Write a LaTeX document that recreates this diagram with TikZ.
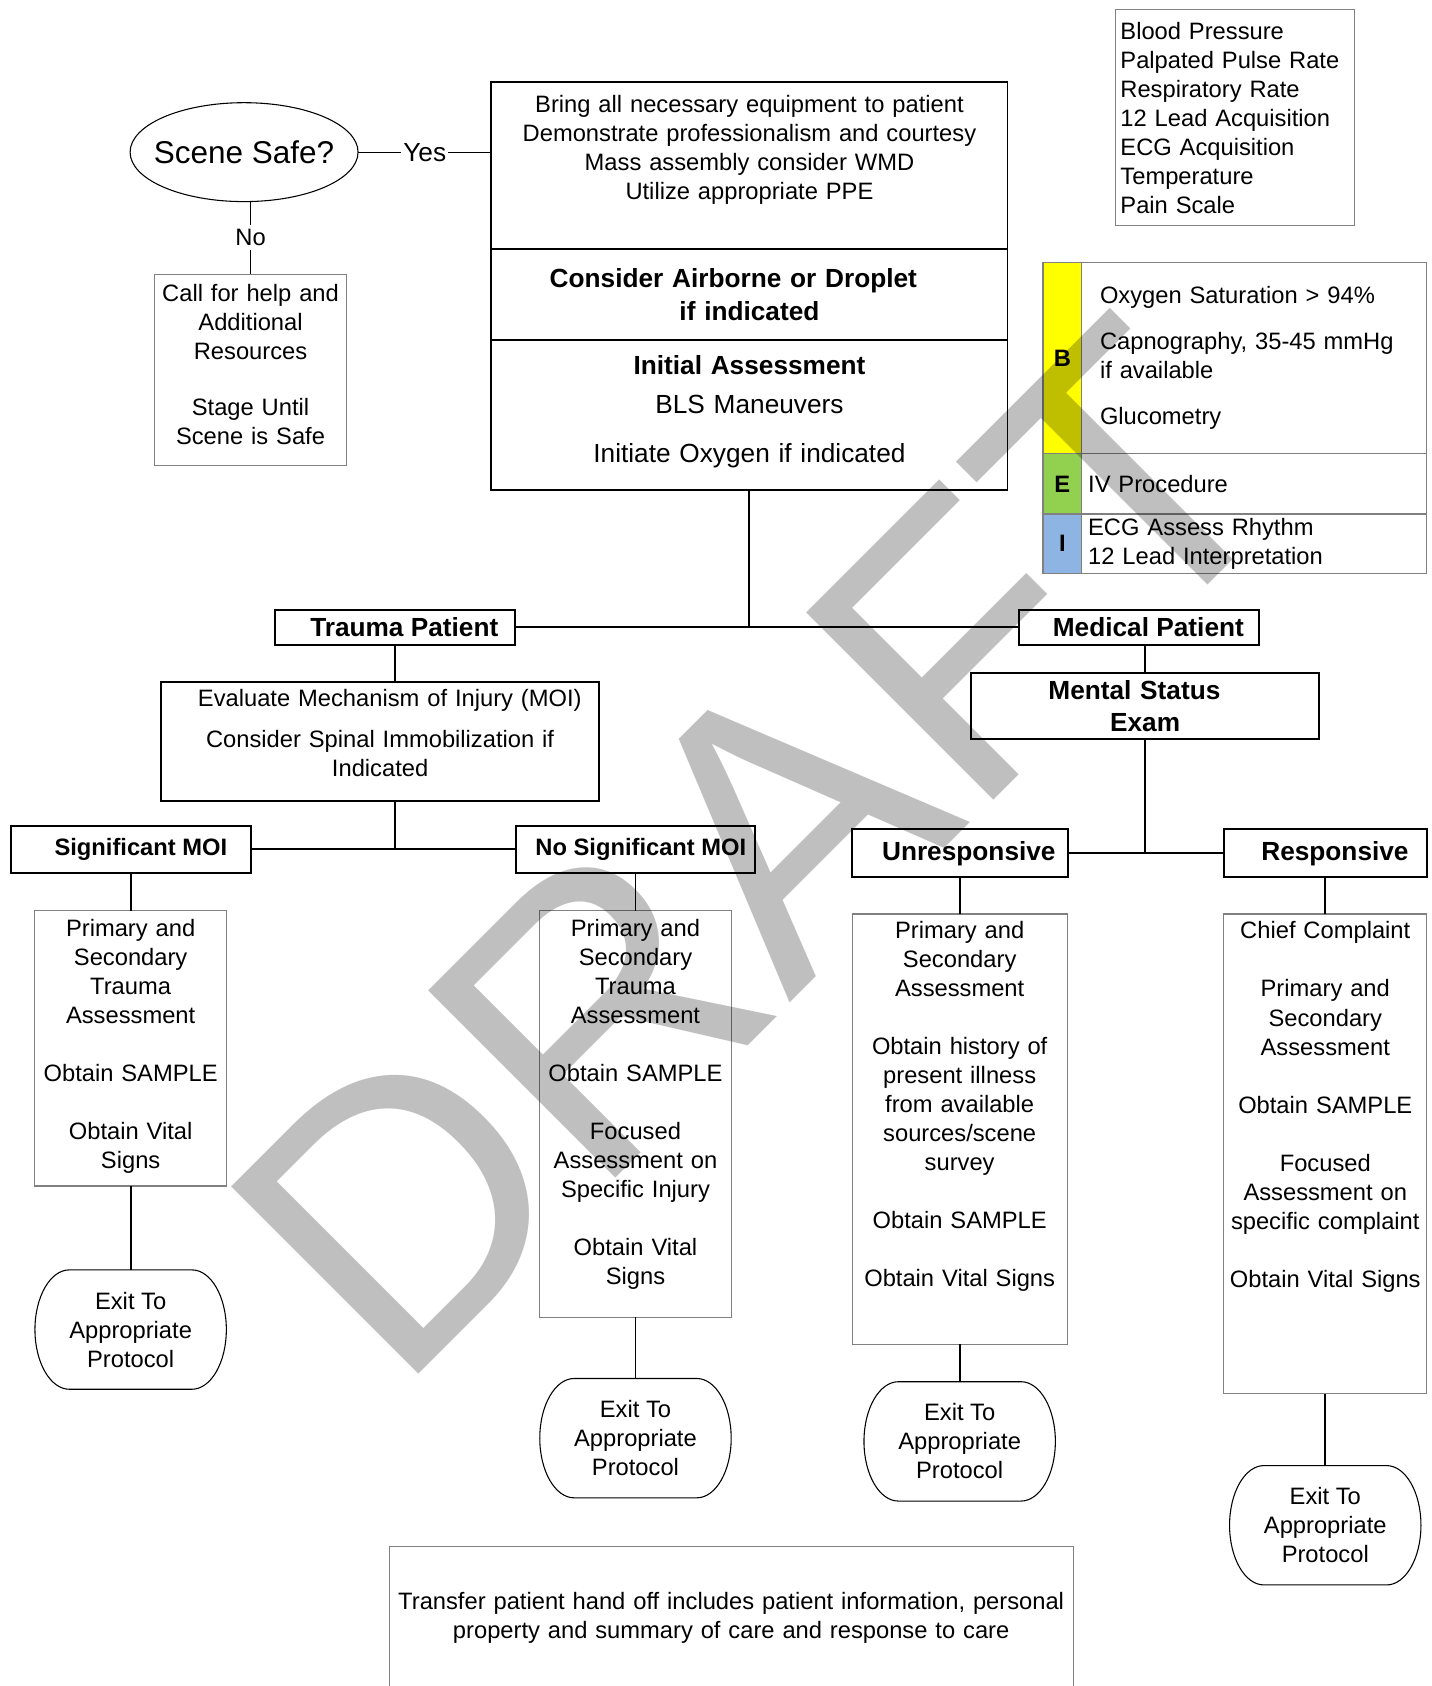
\documentclass[tikz,border=0pt]{standalone}
\usepackage{xcolor}
\usepackage{fontspec}
\setmainfont{Liberation Sans}
\usepackage{tikz}
\usetikzlibrary{positioning, shapes.geometric}

\definecolor{linegray}{gray}{0.5}
\definecolor{bfill}{RGB}{255,255,0}
\definecolor{efill}{RGB}{146,208,80}
\definecolor{ifill}{RGB}{141,180,226}
\newcommand{\txtnormal}{\fontsize{11.03}{13.5}\selectfont}
\newcommand{\txtlarge}{\fontsize{12.2}{15}\selectfont}

\begin{document}
\begin{tikzpicture}[x=0.5pt, y=-0.5pt,
    every node/.style = {inner sep=0pt, outer sep=0pt, font=\txtnormal},
    mainbox/.style = {draw, line width=0.9pt, align=center},
    header/.style = {mainbox, font=\txtlarge\bfseries},
    detailbox/.style = {draw=linegray, line width=0.5pt, align=center},
    cellbox/.style = {detailbox, minimum width=18pt, font=\txtnormal\bfseries},
    exitbox/.style = {align=center, minimum width=89pt, minimum height=55.5pt},
    link/.style = {line width=0.9pt}]
    \useasboundingbox (0,0) rectangle (1331,1568);
    \clip (0,0) rectangle (1331,1568);

    \node[detailbox, align=left, text width=106.5pt, inner xsep=2.5pt, minimum height=100.5pt] (vitals) at (1148.5,109.5)
      {Blood Pressure\\Palpated Pulse Rate\\Respiratory Rate\\12 Lead Acquisition\\ECG Acquisition\\Temperature\\Pain Scale};

    \node[draw, ellipse, line width=0.5pt, minimum width=106pt, minimum height=46pt, inner xsep=-6pt,
      font=\fontsize{14.65}{17}\selectfont] (scene) at (227,141.5) {Scene Safe?};

    \node[mainbox, text width=240pt, minimum height=78pt] (prep) at (697,154)
      {Bring all necessary equipment to patient\\Demonstrate professionalism and courtesy\\Mass assembly consider WMD\\Utilize appropriate PPE\rule[-17.3pt]{0pt}{0pt}};
    \node[header, text width=240pt, minimum height=42pt, below=0pt of prep] (infect)
      {Consider Airborne or Droplet\hspace*{15pt}\mbox{}\\if indicated};
    \node[mainbox, font=\txtlarge, text width=240pt, minimum height=70pt, below=0pt of infect] (initial)
      {\textbf{Initial Assessment}\\[3pt]BLS Maneuvers\\[7.5pt]Initiate Oxygen if indicated\rule[-5.6pt]{0pt}{0pt}};

    \node[detailbox, text width=89.5pt, minimum height=89pt] (help) at (233,344)
      {Call for help and\\Additional\\Resources\\[12.5pt]Stage Until\\Scene is Safe\rule[-5pt]{0pt}{0pt}};

    \draw[line width=0.5pt] (scene.east) -- node[fill=white, inner xsep=1pt, font=\txtlarge] (yes) {Yes} (scene.east -| prep.west);
    \draw[line width=0.5pt] (scene.south -| help.north) -- node[fill=white, inner ysep=2pt] (no) {No} (help.north);

    \node[cellbox, fill=bfill, minimum height=89pt] (bcell) at (988,333) {B};
    \node[detailbox, align=left, text width=143.5pt, inner xsep=8.5pt, minimum height=89pt, anchor=west] (btext) at (bcell.east)
      {Oxygen Saturation > 94\%\\[8pt]Capnography, 35-45 mmHg\\if available\\[8pt]Glucometry};
    \node[cellbox, fill=efill, minimum height=28pt, below=0pt of bcell] (ecell) {E};
    \node[detailbox, align=left, text width=154.5pt, inner xsep=3pt, minimum height=28pt, anchor=west] (etext) at (ecell.east)
      {IV Procedure};
    \node[cellbox, fill=ifill, minimum height=27.5pt, below=0pt of ecell] (icell) {I};
    \node[detailbox, align=left, text width=154.5pt, inner xsep=3pt, minimum height=27.5pt, anchor=west] (itext) at (icell.east)
      {ECG Assess Rhythm\\12 Lead Interpretation};

    \node[header, minimum width=111.5pt, minimum height=16.5pt] (trauma) at (367.5,583.5) {\hspace*{8.5pt}Trauma Patient};
    \node[header, minimum width=111.5pt, minimum height=16.5pt] (medical) at (1059.5,583.5) {\hspace*{8.5pt}Medical Patient};

    \node[mainbox, text width=203.5pt, minimum height=55.5pt] (moi) at (353.5,689.5)
      {\hspace*{9pt}Evaluate Mechanism of Injury (MOI)\\[5.5pt]Consider Spinal Immobilization if\\Indicated\rule[-7.5pt]{0pt}{0pt}};
    \node[mainbox, font=\txtnormal\bfseries, minimum width=111.5pt, minimum height=22pt] (sig) at (121.5,790) {\hspace*{9.5pt}Significant MOI};
    \node[mainbox, font=\txtnormal\bfseries, minimum width=111pt, minimum height=22pt] (nosig) at (591,790) {\hspace*{5pt}No Significant MOI};

    \node[header, text width=162pt, minimum height=30.5pt] (mental) at (1065,656.5) {Mental Status\hspace*{10pt}\mbox{}\\Exam};
    \node[header, minimum width=100.5pt, minimum height=22.5pt] (unresp) at (892.5,793.5) {\hspace*{8.5pt}Unresponsive};
    \node[header, minimum width=94.5pt, minimum height=22.5pt] (resp) at (1232.5,793.5) {\hspace*{9pt}Responsive};

    \node[detailbox, text width=89pt, minimum height=128pt, below=17.5pt of sig] (sigbox)
      {Primary and\\Secondary\\Trauma\\Assessment\\[13.5pt]Obtain SAMPLE\\[13.5pt]Obtain Vital\\Signs\rule[-4.3pt]{0pt}{0pt}};
    \node[detailbox, text width=89.5pt, minimum height=189pt, below=17.5pt of nosig] (nosigbox)
      {Primary and\\Secondary\\Trauma\\Assessment\\[13.5pt]Obtain SAMPLE\\[13.5pt]Focused\\Assessment on\\Specific Injury\\[13.5pt]Obtain Vital\\Signs\rule[-11.3pt]{0pt}{0pt}};
    \node[detailbox, text width=100pt, minimum height=200pt, below=17pt of unresp] (unrespbox)
      {Primary and\\Secondary\\Assessment\\[13.5pt]Obtain history of\\present illness\\from available\\sources/scene\\survey\\[13.5pt]Obtain SAMPLE\\[13.5pt]Obtain Vital Signs\rule[-23.3pt]{0pt}{0pt}};
    \node[detailbox, text width=94.5pt, minimum height=223pt, below=17pt of resp] (respbox)
      {Chief Complaint\\[13.5pt]Primary and\\Secondary\\Assessment\\[13.5pt]Obtain SAMPLE\\[13.5pt]Focused\\Assessment on\\specific complaint\\[13.5pt]Obtain Vital Signs\rule[-45.8pt]{0pt}{0pt}};

    \node[exitbox, below=39pt of sigbox] (sigexit) {Exit To\\Appropriate\\Protocol};
    \node[exitbox, below=28.5pt of nosigbox] (nosigexit) {Exit To\\Appropriate\\Protocol};
    \node[exitbox, below=17.5pt of unrespbox] (unrespexit) {Exit To\\Appropriate\\Protocol};
    \node[exitbox, below=33.5pt of respbox] (respexit) {Exit To\\Appropriate\\Protocol};
    \foreach \nm in {sigexit, nosigexit, unrespexit, respexit}
      \draw[line width=0.5pt] ([xshift=16pt]\nm.north west) -- ([xshift=-16pt]\nm.north east)
        arc[start angle=90, end angle=-90, x radius=16pt, y radius=27.75pt]
        -- ([xshift=16pt]\nm.south west)
        arc[start angle=270, end angle=90, x radius=16pt, y radius=27.75pt] -- cycle;

    \node[detailbox, text width=318pt, minimum height=66.5pt] (handoff) at (680,1504.5)
      {Transfer patient hand off includes patient information, personal\\property and summary of care and response to care};

    \draw[link] (trauma.east) -- (medical.west);
    \draw[link] (initial.south) -- (initial.south |- trauma.east);
    \draw[link] (trauma.south) -- (trauma.south |- moi.north);
    \draw[link] (trauma.south |- moi.south) -- (trauma.south |- sig.east);
    \draw[link] (sig.east) -- (nosig.west);
    \draw[link] (mental.north) -- (mental.north |- medical.south);
    \draw[link] (mental.south) -- (mental.south |- unresp.east);
    \draw[link] (unresp.east) -- (resp.west);
    \foreach \hdr/\dtl/\ext in {sig/sigbox/sigexit, nosig/nosigbox/nosigexit, unresp/unrespbox/unrespexit, resp/respbox/respexit}
      {\draw[link] (\hdr.south) -- (\dtl.north);
       \draw[link] (\dtl.south) -- (\ext.north);}

    \node[rotate=45, anchor=base west, text=black, text opacity=0.25,
      font=\fontsize{179}{179}\selectfont] (draft) at (369,1299) {DRAFT};
\end{tikzpicture}
\end{document}
